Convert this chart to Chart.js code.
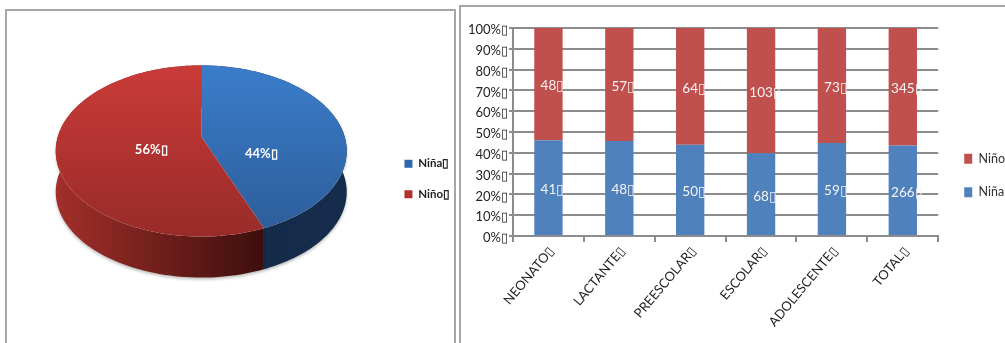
<!DOCTYPE html>
<html>
<head>
<meta charset="utf-8">
<title>Niña / Niño</title>
<script src="https://cdn.jsdelivr.net/npm/chart.js@4"></script>
<style>
    html, body { margin: 0; padding: 0; width: 1005px; height: 343px; overflow: hidden; background: #fff; }
    .frame { position: absolute; box-sizing: border-box; border: 2px solid #a6a6a6; background: #fff; }
    #pieFrame { left: 5px; top: 9px; width: 451px; height: 350px; }
    #barFrame { left: 459px; top: 5px; width: 560px; height: 350px; }
    canvas { position: absolute; }
    #pieChart { left: 7px; top: 11px; }
    #barChart { left: 461px; top: 7px; }
</style>
</head>
<body>
<div class="frame" id="pieFrame"></div>
<div class="frame" id="barFrame"></div>
<canvas id="pieChart" width="448" height="332"></canvas>
<canvas id="barChart" width="556" height="336"></canvas>
<script>
const MARK = "\u25AF";

const pieLabels = ["Niña", "Niño"];
const pieValues = [44, 56];

const stages = ["NEONATO", "LACTANTE", "PREESCOLAR", "ESCOLAR", "ADOLESCENTE", "TOTAL"];
const ninaValues = [41, 48, 50, 68, 59, 266];
const ninoValues = [48, 57, 64, 103, 73, 345];

const FONT = "Lato, 'Liberation Sans', sans-serif";
const BLUE = "#4f81bd";
const RED = "#c0504d";

// share of each column, the bars are stacked up to 100%
const shareOf = (part, other) => part.map((v, i) => (v / (v + other[i])) * 100);

// pie seen from above: circle squashed to an ellipse, apex pushed back
const SQUASH = 0.588;
const TILT = -0.17;
const DEPTH = 41;

function project(el, angle) {
    const u = Math.cos(angle);
    const v = Math.sin(angle);
    const w = 1 + TILT * v;
    return {
        x: el.x + (el.outerRadius * u * Math.sqrt(1 - TILT * TILT)) / w,
        y: el.y + (el.outerRadius * SQUASH * (v + TILT)) / w,
    };
}

function arcPoints(el) {
    const pts = [];
    const steps = 120;
    for (let i = 0; i <= steps; i++) {
        pts.push(project(el, el.startAngle + ((el.endAngle - el.startAngle) * i) / steps));
    }
    return pts;
}

const topColors = [["#3b7dcb", "#2c5c98"], ["#ca3b38", "#982b29"]];
const sideColors = [["#122643", "#152c4c"], ["#a32f2b", "#3a0e0b"]];
const labelReach = [0.42, 0.35];

const pie3d = {
    id: "pie3d",
    beforeDatasetsDraw(chart) {
        const ctx = chart.ctx;
        const arcs = chart.getDatasetMeta(0).data;

        // walls first, the top faces paint over whatever is behind
        arcs.forEach((el, i) => {
            const pts = arcPoints(el);
            const r = el.outerRadius;
            const g = ctx.createLinearGradient(el.x - r, 0, el.x + (i === 1 ? r * 0.46 : r), 0);
            g.addColorStop(0, sideColors[i][0]);
            g.addColorStop(1, sideColors[i][1]);
            ctx.save();
            ctx.shadowColor = "rgba(0,0,0,0.25)";
            ctx.shadowBlur = 3;
            ctx.shadowOffsetY = 2;
            ctx.fillStyle = g;
            ctx.beginPath();
            pts.forEach((p) => ctx.lineTo(p.x, p.y));
            pts.slice().reverse().forEach((p) => ctx.lineTo(p.x, p.y + DEPTH));
            ctx.closePath();
            ctx.fill();
            ctx.restore();
        });

        arcs.forEach((el, i) => {
            const ry = el.outerRadius * SQUASH;
            const g = ctx.createLinearGradient(0, el.y - ry, 0, el.y + ry);
            g.addColorStop(0, topColors[i][0]);
            g.addColorStop(1, topColors[i][1]);
            ctx.fillStyle = g;
            const apex = { x: el.x, y: el.y + ry * TILT };
            ctx.beginPath();
            ctx.moveTo(apex.x, apex.y);
            arcPoints(el).forEach((p) => ctx.lineTo(p.x, p.y));
            ctx.closePath();
            ctx.fill();
        });

        ctx.fillStyle = "#fff";
        ctx.font = "bold 13px " + FONT;
        ctx.textAlign = "center";
        ctx.textBaseline = "middle";
        arcs.forEach((el, i) => {
            const mid = (el.startAngle + el.endAngle) / 2;
            const x = el.x + Math.cos(mid) * el.outerRadius * labelReach[i];
            const y = el.y + 1 + Math.cos(mid) * 2;
            ctx.fillText(pieValues[i] + "%" + MARK, x, y);
        });
        return false;
    },
};

// the legend keeps its reserved width, only its drawing spot moves
const moveLegend = (dx, dy) => ({
    id: "moveLegend",
    afterLayout(chart) {
        const legend = chart.legend;
        legend.left += dx;
        legend.right += dx;
        legend.top += dy;
        legend.bottom += dy;
    },
});

new Chart(document.getElementById("pieChart"), {
    type: "pie",
    data: {
        labels: pieLabels.map((l) => l + MARK),
        datasets: [
            {
                data: pieValues,
                backgroundColor: ["#2f66ab", "#b03230"],
                borderWidth: 0,
            },
        ],
    },
    options: {
        responsive: false,
        animation: false,
        radius: 145.5,
        layout: { padding: { right: 4, left: 19, top: 0, bottom: 52 } },
        plugins: {
            tooltip: { enabled: false },
            legend: {
                position: "right",
                labels: {
                    boxWidth: 8,
                    boxHeight: 8,
                    padding: 19,
                    color: "#222",
                    font: { family: FONT, size: 11.5, weight: "bold" },
                },
            },
        },
    },
    plugins: [pie3d, moveLegend(9, 28)],
});

const barLabels = {
    id: "barLabels",
    afterDatasetsDraw(chart) {
        const ctx = chart.ctx;
        const counts = [ninaValues, ninoValues];
        ctx.save();
        ctx.fillStyle = "#f4f4f4";
        ctx.font = "13.5px " + FONT;
        ctx.textAlign = "center";
        ctx.textBaseline = "middle";
        chart.data.datasets.forEach((ds, d) => {
            chart.getDatasetMeta(d).data.forEach((bar, i) => {
                ctx.fillText(counts[d][i] + MARK, bar.x + 4, (bar.y + bar.base) / 2 + 2);
            });
        });
        ctx.restore();
    },
};

new Chart(document.getElementById("barChart"), {
    type: "bar",
    data: {
        labels: stages.map((s) => s + MARK),
        datasets: [
            {
                label: "Niña" + MARK,
                data: shareOf(ninaValues, ninoValues),
                backgroundColor: BLUE,
                barPercentage: 0.4,
                categoryPercentage: 1,
            },
            {
                label: "Niño" + MARK,
                data: shareOf(ninoValues, ninaValues),
                backgroundColor: RED,
                barPercentage: 0.4,
                categoryPercentage: 1,
            },
        ],
    },
    options: {
        responsive: false,
        animation: false,
        layout: { padding: { top: 21, left: 0, right: 0, bottom: 0 } },
        scales: {
            x: {
                stacked: true,
                afterFit(scale) {
                    scale.height = 107;
                },
                grid: {
                    drawOnChartArea: false,
                    offset: true,
                    tickLength: 6,
                    color: "#8c8c8c",
                    lineWidth: 2,
                },
                border: { color: "#8c8c8c", width: 2 },
                ticks: {
                    minRotation: 50,
                    maxRotation: 50,
                    autoSkip: false,
                    color: "#222",
                    padding: 2,
                    labelOffset: 3,
                    font: { family: FONT, size: 13 },
                },
            },
            y: {
                stacked: true,
                min: 0,
                max: 100,
                afterFit(scale) {
                    scale.width = 52;
                },
                grid: { color: "#8c8c8c", lineWidth: 2, tickLength: 4 },
                border: { color: "#8c8c8c", width: 2 },
                ticks: {
                    stepSize: 10,
                    color: "#222",
                    padding: 1,
                    labelOffset: 2,
                    font: { family: FONT, size: 13 },
                    callback: (v) => v + "%" + MARK,
                },
            },
        },
        plugins: {
            tooltip: { enabled: false },
            legend: {
                position: "right",
                reverse: true,
                labels: {
                    boxWidth: 8,
                    boxHeight: 10,
                    padding: 21,
                    color: "#333",
                    font: { family: FONT, size: 12.5 },
                },
            },
        },
    },
    plugins: [barLabels, moveLegend(5, -10)],
});
</script>
</body>
</html>
